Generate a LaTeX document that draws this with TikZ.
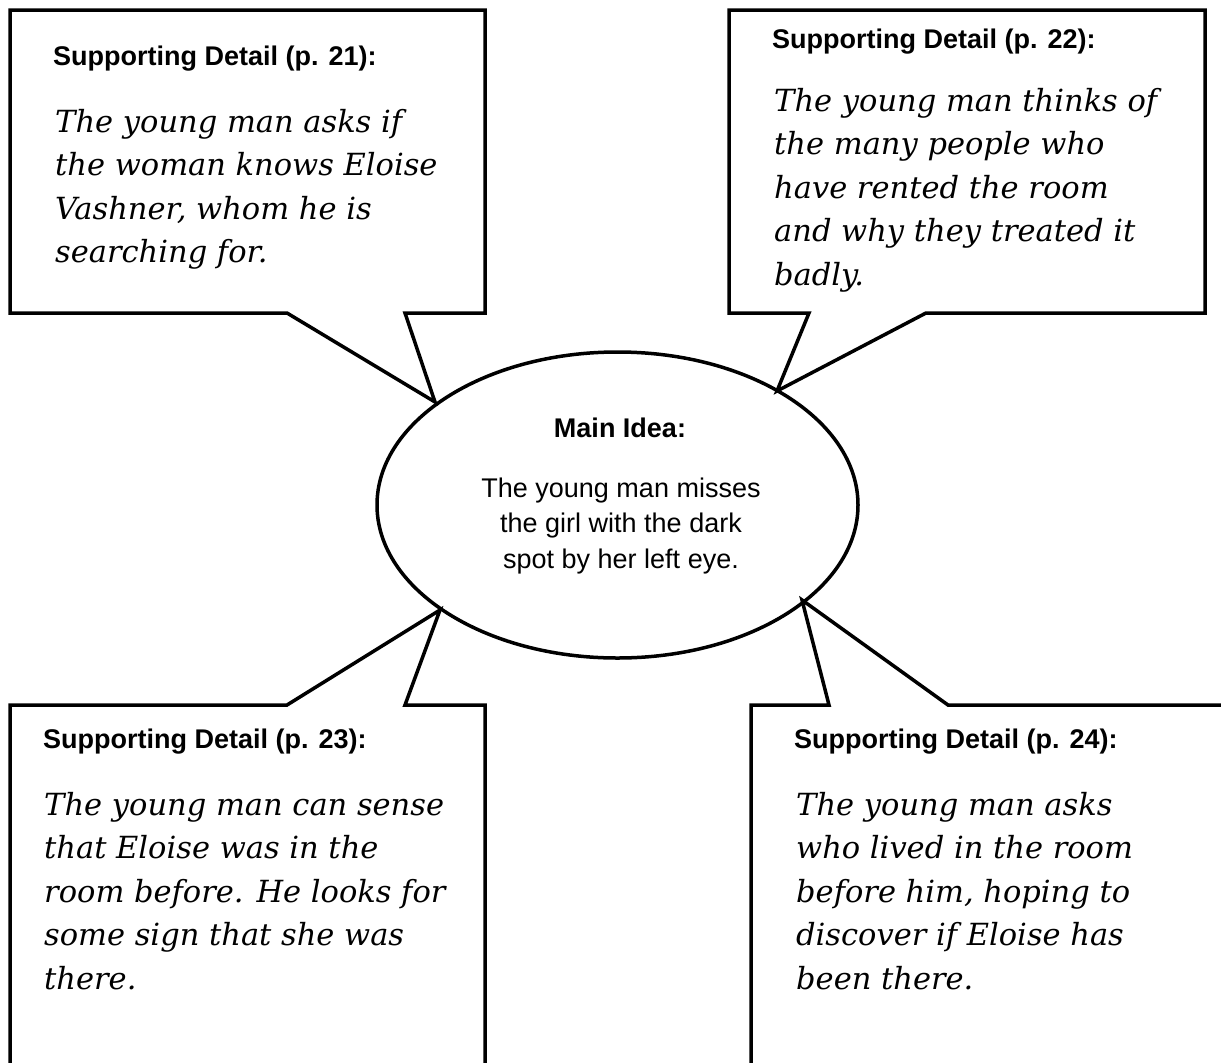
\documentclass[tikz,border=0pt]{standalone}
\usepackage{fontspec}
\setmainfont{Liberation Sans}
\newfontfamily\handfont{DejaVu Serif}
\usetikzlibrary{shapes.geometric}
\tikzset{
  outline/.style={draw=black, line width=3.5pt, fill=white, line join=miter},
  headtext/.style={anchor=base west, inner sep=0pt, font=\fontsize{27}{32}\selectfont\bfseries},
  handtext/.style={anchor=base west, inner sep=0pt, font=\handfont\itshape\fontsize{30.5}{43.5}\selectfont},
  maintext/.style={anchor=base, inner sep=0pt, font=\fontsize{27}{35.5}\selectfont},
}
\newcommand{\lines}[1]{\begin{tabular}[t]{@{}l@{}}#1\end{tabular}}
\newcommand{\clines}[1]{\begin{tabular}[t]{@{}c@{}}#1\end{tabular}}
\begin{document}
\begin{tikzpicture}[x=1pt,y=-1pt]
\useasboundingbox (0,0) rectangle (1221,1063);
% pointer tips on the ellipse
\coordinate (t1) at (435,402);
\coordinate (t2) at (777,391);
\coordinate (t3) at (440,610);
\coordinate (t4) at (802,600);
% callout boxes
\draw[outline] (10,10) -- (485,10) -- (485,313) -- (405,313) -- (t1) -- (287,313) -- (10,313) -- cycle;
\draw[outline] (729,10) -- (1205,10) -- (1205,313) -- (926,313) -- (t2) -- (809,313) -- (729,313) -- cycle;
\draw[outline] (10,1075) -- (10,705) -- (287,705) -- (t3) -- (405,705) -- (485,705) -- (485,1075);
\draw[outline] (751,1075) -- (751,705) -- (829,705) -- (t4) -- (948,705) -- (1230,705);
% main idea ellipse
\node[ellipse, draw=black, line width=3.5pt, minimum width=481pt, minimum height=306pt, inner sep=0pt] (main) at (617.5,505) {};
\node[maintext, font=\fontsize{27}{35.5}\selectfont\bfseries] (mainhead) at (620,437) {Main Idea:};
\node[maintext] (maintxt) at (621,497) {\clines{The young man misses\\the girl with the dark\\spot by her left eye.}};
% box texts
\node[headtext] (h1) at (53,65) {Supporting Detail (p. 21):};
\node[handtext] (d1) at (55,132) {\lines{The young man asks if\\the woman knows Eloise\\Vashner, whom he is\\searching for.}};
\node[headtext] (h2) at (772,48) {Supporting Detail (p. 22):};
\node[handtext] (d2) at (774,111) {\lines{The young man thinks of\\the many people who\\have rented the room\\and why they treated it\\badly.}};
\node[headtext] (h3) at (43,748) {Supporting Detail (p. 23):};
\node[handtext] (d3) at (44,815) {\lines{The young man can sense\\that Eloise was in the\\room before. He looks for\\some sign that she was\\there.}};
\node[headtext] (h4) at (794,748) {Supporting Detail (p. 24):};
\node[handtext] (d4) at (796,815) {\lines{The young man asks\\who lived in the room\\before him, hoping to\\discover if Eloise has\\been there.}};
\end{tikzpicture}
\end{document}
